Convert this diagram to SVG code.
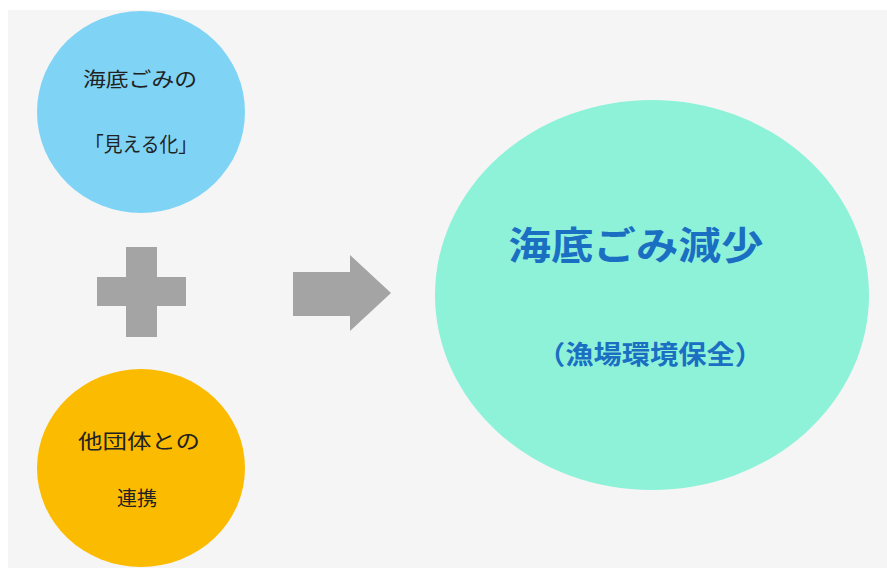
<svg xmlns="http://www.w3.org/2000/svg" width="887" height="568" viewBox="0 0 887 568">
<defs>
<style>
.small{font-family:"Noto Sans CJK JP","Noto Sans CJK SC",sans-serif;font-size:20px;fill:#222;text-anchor:middle;dominant-baseline:central}
.big{font-family:"Noto Sans CJK JP","Noto Sans CJK SC",sans-serif;font-weight:bold;fill:#1b6fc2;text-anchor:middle;dominant-baseline:central}
.shape{fill:#a4a4a4}
</style>
<clipPath id="area"><rect x="8" y="10" width="879" height="558"/></clipPath>
</defs>
<rect width="887" height="568" fill="#ffffff"/>
<rect x="8" y="10" width="879" height="558" fill="#f5f5f5"/>
<g clip-path="url(#area)">
<g id="visualize">
<ellipse cx="141" cy="112" rx="104" ry="101" fill="#7fd4f6"/>
<text class="small" x="140" y="78" textLength="114" lengthAdjust="spacingAndGlyphs">海底ごみの</text>
<text class="small" x="141" y="143" textLength="112" lengthAdjust="spacingAndGlyphs">「見える化」</text>
</g>
<g id="cooperation">
<ellipse cx="141" cy="468" rx="104" ry="99" fill="#fbbb00"/>
<text class="small" x="139" y="440" textLength="122" lengthAdjust="spacingAndGlyphs">他団体との</text>
<text class="small" x="137" y="497" textLength="40" lengthAdjust="spacingAndGlyphs">連携</text>
</g>
<g id="result">
<ellipse cx="652" cy="295" rx="217" ry="195" fill="#8ef2d9"/>
<text class="big" x="636" y="242" font-size="38" textLength="255" lengthAdjust="spacingAndGlyphs">海底ごみ減少</text>
<text class="big" x="650" y="352" font-size="26" textLength="226" lengthAdjust="spacingAndGlyphs">（漁場環境保全）</text>
</g>
</g>
<g id="connectors">
<path class="shape" d="M126 247H157V277H186V306H157V337H126V306H97V277H126Z"/>
<path class="shape" d="M293 272H350V255L391 293L350 331V316H293Z"/>
</g>
</svg>
